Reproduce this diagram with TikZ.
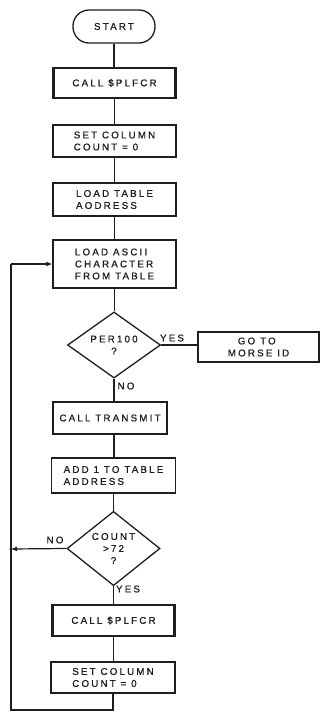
\documentclass[tikz,border=0pt]{standalone}
\usepackage{fontspec}
\setmainfont{Liberation Sans}[LetterSpace=22,FakeBold=0.8]
\usetikzlibrary{shapes.geometric,arrows.meta}
\definecolor{ink}{HTML}{1E1E1E}
\begin{document}
\begin{tikzpicture}[x=1pt,y=-1pt,
  every node/.style={font=\fontsize{9.8}{12}\selectfont, text=ink},
  flow/.style={draw=ink, line width=1.3pt},
  box/.style={flow, rectangle, align=left, inner sep=0pt},
  term/.style={flow, rectangle, rounded corners=16pt, inner sep=0pt},
  dec/.style={flow, diamond, inner sep=0pt, align=center},
  lab/.style={inner sep=0pt},
  conn/.style={draw=ink, line width=1.2pt},
  arr/.style={conn, -{Latex[length=6pt,width=5pt]}}
]
\useasboundingbox (0,0) rectangle (321,721);
\fill[white] (0,0) rectangle (321,721);

\node[term, minimum width=82pt, minimum height=33pt] (start) at (114,26.5) {START};
\node[box, minimum width=123pt, minimum height=30pt] (call1) at (114.5,83) {CALL \$PLFCR};
\node[box, minimum width=123pt, minimum height=32pt] (set1) at (114.5,141) {SET COLUMN\\COUNT = 0};
\node[box, minimum width=123pt, minimum height=33pt] (loadt) at (114.5,199.5) {LOAD TABLE\\AODRESS};
\node[box, minimum width=123pt, minimum height=48pt] (loada) at (114.5,264) {LOAD ASCII\\CHARACTER\\FROM TABLE};
\node[dec, minimum width=93pt, minimum height=62pt] (per) at (114,345) {PER100\\?};
\node[box, minimum width=121pt, minimum height=30pt] (goto) at (258.5,347) {\hspace*{10pt}GO TO\\MORSE ID};
\node[box, minimum width=114pt, minimum height=32pt] (trans) at (110,418) {CALL TRANSMIT};
\node[box, minimum width=124pt, minimum height=35pt] (add) at (113.5,475.5) {ADD 1 TO TABLE\\ADDRESS};
\node[dec, minimum width=93pt, minimum height=61pt] (count) at (113.5,548.5) {COUNT\\>72\\?};
\node[box, minimum width=123pt, minimum height=31pt] (call2) at (113.5,620.5) {CALL \$PLFCR};
\node[box, minimum width=124pt, minimum height=31pt] (set2) at (113,677.5) {SET COLUMN\\COUNT = 0};

% double sides of subroutine boxes
\foreach \n in {call1,call2}{
  \draw[conn] ([xshift=2.2pt]\n.north west) -- ([xshift=2.2pt]\n.south west);
  \draw[conn] ([xshift=-2.2pt]\n.north east) -- ([xshift=-2.2pt]\n.south east);
}

% labels
\node[lab] (yes1) at (172,338) {YES};
\node[lab] (no1) at (126,386) {NO};
\node[lab] (no2) at (55,540) {NO};
\node[lab] (yes2) at (128,589) {YES};

% coordinates of the loop
\coordinate (b1) at (113,710);
\coordinate (b2) at (11,710);
\coordinate (b3) at (11,264);
\coordinate (j) at (11,549);

% connectors
\draw[conn] (start.south) -- (start.south |- call1.north);
\draw[conn] (call1.south) -- (call1.south |- set1.north);
\draw[conn] (set1.south) -- (set1.south |- loadt.north);
\draw[conn] (loadt.south) -- (loadt.south |- loada.north);
\draw[conn] (loada.south) -- (loada.south |- per.north);
\draw[conn] (per.east) -- (per.east -| goto.west);
\draw[conn] (per.south) -- (per.south |- trans.north);
\draw[conn] (per.south |- trans.south) -- (per.south |- add.north);
\draw[conn] (add.south) -- (add.south |- count.north);
\draw[conn] (count.south) -- (count.south |- call2.north);
\draw[conn] (call2.south) -- (call2.south |- set2.north);
\draw[conn] (set2.south) -- (b1) -- (b2) -- (b3);
\draw[arr] (b3) -- (loada.west);
\draw[arr] (count.west) -- (j);
\fill[ink] (j) circle (1.6pt);
\end{tikzpicture}
\end{document}
